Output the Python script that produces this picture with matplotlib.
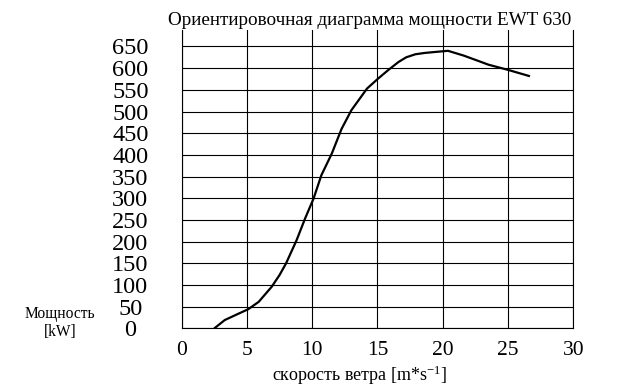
import numpy as np
import matplotlib
matplotlib.use('Agg')
import matplotlib.pyplot as plt

# wind speed (m/s) and power (kW)
wind = [2.55, 3.3, 4.3, 5.1, 5.9, 6.9, 7.5, 8.0, 8.8, 9.45, 10.1, 10.7, 11.5,
        12.25, 13.0, 14.2, 15.05, 15.8, 16.6, 17.2, 17.9, 18.6, 19.3, 20.4,
        21.6, 22.6, 23.5, 25.0, 26.6]
power = [1, 19, 33, 44, 61, 96, 123, 150, 203, 253, 299, 353, 403,
         460, 503, 553, 576, 595, 614, 625, 632, 635, 637, 640,
         629, 618, 608, 596, 582]

x_ticks = [0, 5, 10, 15, 20, 25, 30]
y_ticks = list(range(0, 651, 50))

title = 'Ориентировочная диаграмма мощности EWT 630'
x_label = r'скорость ветра [m*s$^{\mathregular{-1}}$]'
y_label = 'Мощность\n[kW]'

plt.rcParams['font.family'] = ['Liberation Serif', 'DejaVu Serif']
plt.rcParams['mathtext.fontset'] = 'custom'
plt.rcParams['mathtext.rm'] = 'Liberation Serif'
plt.rcParams['mathtext.it'] = 'Liberation Serif'

fig = plt.figure(figsize=(6.28, 3.87), dpi=100)
ax = fig.add_axes([0.2893, 0.1517, 0.6236, 0.7708])

ax.plot(wind, power, color='k', lw=1.6, zorder=3)

ax.set_xlim(0, 30)
ax.set_ylim(0, 688)
ax.set_xticks(x_ticks)
ax.set_yticks(y_ticks)
ax.grid(True, color='k', lw=0.8)
ax.set_axisbelow(True)

ax.spines['top'].set_visible(False)
for side in ['left', 'right', 'bottom']:
    ax.spines[side].set_linewidth(0.8)

ax.tick_params(axis='both', length=0)
ax.tick_params(axis='x', pad=9, labelsize=15.5)
ax.tick_params(axis='y', pad=37, labelsize=17.5)
for lbl in ax.get_yticklabels():
    lbl.set_horizontalalignment('center')

fig.text(0.589, 0.948, title, ha='center', va='center', fontsize=13.8)
fig.text(0.573, 0.029, x_label, ha='center', va='center', fontsize=13)
fig.text(0.0955, 0.165, y_label, ha='center', va='center', fontsize=11.2,
         linespacing=1.2)

fig.savefig('out.png', dpi=100)
